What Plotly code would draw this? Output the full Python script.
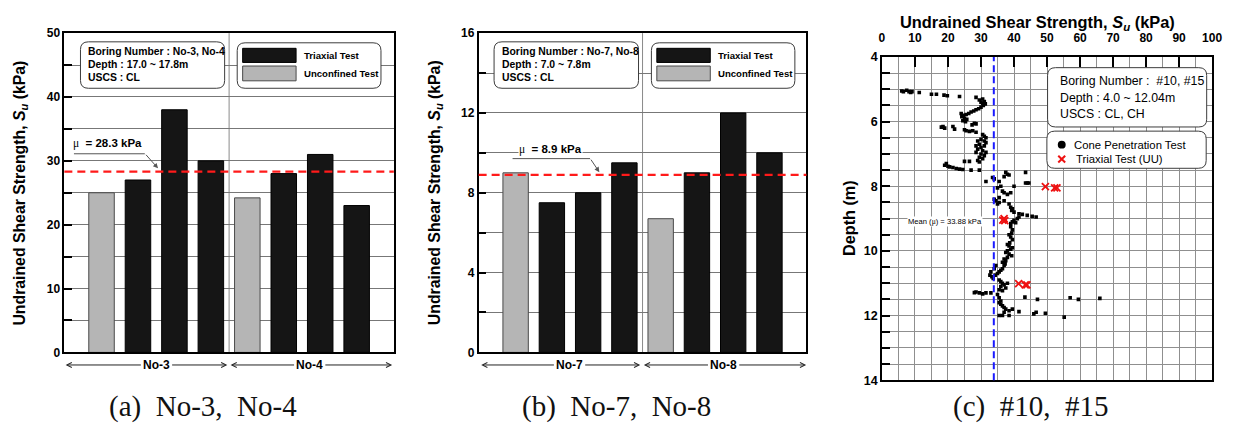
import plotly.graph_objects as go

# ---------------- data ----------------
a_boring = ["No-3", "No-3", "No-3", "No-3", "No-4", "No-4", "No-4", "No-4"]
a_tests = ["Unconfined", "Triaxial", "Triaxial", "Triaxial",
           "Unconfined", "Triaxial", "Triaxial", "Triaxial"]
a_su = [25.0, 27.0, 38.0, 30.0, 24.2, 28.0, 31.0, 23.0]
a_mean = 28.3

b_boring = ["No-7", "No-7", "No-7", "No-7", "No-8", "No-8", "No-8", "No-8"]
b_tests = ["Unconfined", "Triaxial", "Triaxial", "Triaxial",
           "Unconfined", "Triaxial", "Triaxial", "Triaxial"]
b_su = [9.0, 7.5, 8.0, 9.5, 6.7, 9.0, 12.0, 10.0]
b_mean = 8.9

# cone penetration profile (#10, #15)
cpt_su = [
    6.0, 6.5, 7.5, 8.2, 8.7, 9.1, 11.3, 15.0, 16.5, 18.8, 19.8, 23.5,
    28.5, 29.5, 30.5, 31.0, 30.0, 30.5, 31.3, 30.7, 30.0, 29.3, 28.5, 27.8,
    27.0, 26.3, 24.0, 25.5, 24.7, 24.2, 25.0, 25.7, 24.5, 25.3, 28.0, 28.5,
    27.3, 18.5, 21.5, 18.0, 19.0, 22.0, 25.0, 25.5, 27.5, 26.5, 28.5,
    30.5, 31.0, 31.5, 30.0, 29.0, 31.0, 31.5, 29.5, 28.5, 31.0, 30.0, 29.0,
    30.5, 28.5, 31.5, 30.0, 31.0, 29.5, 30.5, 29.0, 26.5, 25.0, 29.5,
    19.5, 19.0, 20.0, 20.5, 21.5, 22.5, 23.5, 24.5, 27.0, 29.5,
    43.5, 37.5, 38.0, 38.5, 37.0, 33.5, 34.0, 31.5, 35.5, 44.0, 44.5, 43.5,
    36.0, 40.0, 35.0, 36.5, 37.0, 39.0, 38.0, 35.5, 34.0, 34.5, 37.0, 35.5,
    35.0, 38.5, 39.0, 39.5, 39.3, 40.0, 41.5, 42.5, 44.0, 45.5, 46.7, 41.5,
    41.0, 40.0, 39.5, 40.5, 39.0, 39.0, 39.5, 39.3, 38.5, 39.0, 39.5, 38.7,
    38.0, 38.5, 39.5, 39.0, 38.0, 37.5, 38.5, 39.3, 38.0, 37.0, 37.5, 36.5,
    37.3, 37.0, 34.5, 36.5, 34.0, 36.0, 35.5, 33.0, 35.0, 34.3, 32.7, 33.3,
    33.7, 35.5, 36.0, 36.5, 38.0, 37.0, 36.0, 37.5, 35.5, 36.5,
    28.0, 28.5, 29.5, 30.5, 31.5, 33.0, 35.0, 57.0, 66.0, 43.3, 35.5, 47.1,
    59.5, 36.0, 35.5, 36.0, 36.5, 37.0, 37.5, 39.5, 38.5, 41.5, 37.0, 46.7,
    49.5, 46.0, 35.5, 36.5, 38.5, 55.2,
]
cpt_depth = [
    5.05, 5.07, 5.03, 5.07, 5.10, 5.07, 5.10, 5.15, 5.15, 5.18, 5.20, 5.22,
    5.25, 5.33, 5.30, 5.38, 5.40, 5.43, 5.45, 5.50, 5.55, 5.60, 5.63, 5.67,
    5.70, 5.75, 5.75, 5.78, 5.80, 5.85, 5.90, 5.93, 5.97, 6.00, 6.05, 6.07,
    6.10, 6.15, 6.15, 6.17, 6.20, 6.23, 6.25, 6.28, 6.28, 6.30, 6.33,
    6.40, 6.45, 6.50, 6.55, 6.60, 6.60, 6.65, 6.70, 6.75, 6.75, 6.80, 6.85,
    6.90, 6.95, 6.95, 7.00, 7.05, 7.10, 7.15, 7.20, 7.23, 7.23, 7.25,
    7.30, 7.35, 7.38, 7.40, 7.42, 7.45, 7.47, 7.48, 7.50, 7.50,
    7.57, 7.57, 7.63, 7.65, 7.70, 7.73, 7.77, 7.85, 7.85, 7.90, 7.90, 7.90,
    8.00, 8.00, 8.05, 8.15, 8.20, 8.20, 8.25, 8.35, 8.40, 8.45, 8.45, 8.50,
    8.55, 8.55, 8.65, 8.70, 8.75, 8.80, 8.85, 8.87, 8.90, 8.93, 8.95, 8.95,
    9.00, 9.05, 9.10, 9.13, 9.15, 9.25, 9.35, 9.45, 9.50, 9.57, 9.65, 9.75,
    9.80, 9.85, 9.90, 9.95, 10.00, 10.05, 10.10, 10.15, 10.20, 10.25, 10.30, 10.35,
    10.40, 10.45, 10.45, 10.55, 10.55, 10.60, 10.65, 10.65, 10.70, 10.75, 10.75, 10.80,
    10.85, 10.90, 10.95, 11.00, 11.00, 11.05, 11.10, 11.15, 11.20, 11.23,
    11.29, 11.27, 11.30, 11.33, 11.30, 11.30, 11.35, 11.45, 11.47, 11.43, 11.45, 11.50,
    11.50, 11.55, 11.60, 11.65, 11.70, 11.75, 11.80, 11.80, 11.85, 11.88, 11.90, 11.90,
    11.93, 11.95, 12.00, 12.00, 12.00, 12.05,
]
uu_su = [49.5, 52.3, 53.0, 36.6, 37.0, 37.2, 41.4, 43.4, 43.9]
uu_depth = [8.01, 8.05, 8.05, 9.05, 9.00, 9.06, 11.01, 11.05, 11.05]
c_mean = 33.88

su_ticks = [0, 10, 20, 30, 40, 50, 60, 70, 80, 90, 100]

# ---------------- helpers ----------------
W, H = 1234, 431
SANS = "Liberation Sans, Arial, sans-serif"
SERIF = "Liberation Serif, Times New Roman, serif"


def fx(x):
    return x / W


def fy(y):
    return 1 - y / H


fill = {"Triaxial": "#151515", "Unconfined": "#b5b5b5"}
edge = {"Triaxial": "#000000", "Unconfined": "#4a4a4a"}

fig = go.Figure()


def note(text, x, y, size, xanchor="center", bold=True, family=SANS,
         color="#000000", bg=None, angle=0):
    fig.add_annotation(
        text=text, x=fx(x), y=fy(y), xref="paper", yref="paper",
        xanchor=xanchor, yanchor="middle", showarrow=False, textangle=angle,
        font=dict(family=family, size=size, color=color,
                  weight=700 if bold else 400),
        bgcolor=bg, borderpad=0,
    )


def arrow(xh, yh, xt, yt, head=5, color="#222222"):
    fig.add_annotation(
        x=fx(xh), y=fy(yh), xref="paper", yref="paper",
        ax=xt - xh, ay=yt - yh, axref="pixel", ayref="pixel",
        text="", showarrow=True, arrowhead=head, arrowsize=1,
        arrowwidth=1, arrowcolor=color, standoff=0, startstandoff=0,
    )


def seg(x0, y0, x1, y1, color="#444444", width=1):
    fig.add_shape(type="line", xref="paper", yref="paper",
                  x0=fx(x0), y0=fy(y0), x1=fx(x1), y1=fy(y1),
                  line=dict(color=color, width=width))


def rbox(x0, y0, x1, y1, r=8):
    pts = [
        ("M", [(x0 + r, y0)]), ("L", [(x1 - r, y0)]),
        ("Q", [(x1, y0), (x1, y0 + r)]), ("L", [(x1, y1 - r)]),
        ("Q", [(x1, y1), (x1 - r, y1)]), ("L", [(x0 + r, y1)]),
        ("Q", [(x0, y1), (x0, y1 - r)]), ("L", [(x0, y0 + r)]),
        ("Q", [(x0, y0), (x0 + r, y0)]),
    ]
    path = " ".join(
        cmd + " " + " ".join(f"{fx(px):.5f},{fy(py):.5f}" for px, py in p)
        for cmd, p in pts) + " Z"
    fig.add_shape(type="path", path=path, xref="paper", yref="paper",
                  fillcolor="white", line=dict(color="#3c3c3c", width=1),
                  layer="above")


def swatch(x0, y0, x1, y1, color, line):
    fig.add_shape(type="rect", xref="paper", yref="paper",
                  x0=fx(x0), y0=fy(y0), x1=fx(x1), y1=fy(y1),
                  fillcolor=color, line=dict(color=line, width=1), layer="above")


# ---------------- bar panels ----------------
bar_panels = [
    dict(su=a_su, tests=a_tests, xa="x", ya="y"),
    dict(su=b_su, tests=b_tests, xa="x2", ya="y2"),
]
for p in bar_panels:
    fig.add_trace(go.Bar(
        x=list(range(len(p["su"]))), y=p["su"], width=0.7,
        marker=dict(color=[fill[t] for t in p["tests"]],
                    line=dict(color=[edge[t] for t in p["tests"]], width=1)),
        xaxis=p["xa"], yaxis=p["ya"], showlegend=False,
        hovertext=p["tests"],
    ))

# cone penetration + triaxial points
fig.add_trace(go.Scatter(
    x=cpt_su, y=cpt_depth, mode="markers", xaxis="x3", yaxis="y3",
    marker=dict(symbol="square", size=3.6, color="#000000"),
    name="Cone Penetration Test", showlegend=False,
))
fig.add_trace(go.Scatter(
    x=uu_su, y=uu_depth, mode="markers", xaxis="x3", yaxis="y3",
    marker=dict(symbol="x-thin", size=7, color="#ee1111",
                line=dict(color="#ee1111", width=1.8)),
    name="Triaxial Test (UU)", showlegend=False,
))

tickfont = dict(family=SANS, size=12, color="#000000", weight=700)
grid_a = "#777777"
grid_c = "#8f8f8f"

frame = dict(showline=True, mirror=True, linecolor="#000000", linewidth=1.6,
             zeroline=False)

fig.update_layout(
    width=W, height=H, autosize=False,
    margin=dict(l=0, r=0, t=0, b=0),
    paper_bgcolor="white", plot_bgcolor="white",
    xaxis=dict(domain=[fx(62), fx(395)], range=[-1.02, 8.02],
               showticklabels=False, showgrid=False, ticks="", anchor="y", **frame),
    yaxis=dict(domain=[fy(357), fy(27)], range=[0, 50], dtick=10,
               ticks="inside", ticklen=8, tickwidth=1.5, tickcolor="#000",
               showgrid=True, gridcolor=grid_a, gridwidth=1,
               minor=dict(dtick=5, ticks="inside", ticklen=8, tickcolor="#000",
                          showgrid=True, gridcolor=grid_a, gridwidth=1),
               tickfont=tickfont, anchor="x", **frame),
    xaxis2=dict(domain=[fx(480.7), fx(812)], range=[-1.02, 8.02],
                showticklabels=False, showgrid=False, ticks="", anchor="y2", **frame),
    yaxis2=dict(domain=[fy(357), fy(27)], range=[0, 16], dtick=4,
                ticks="inside", ticklen=8, tickwidth=1.5, tickcolor="#000",
                showgrid=True, gridcolor=grid_a, gridwidth=1,
                minor=dict(dtick=2, ticks="inside", ticklen=8, tickcolor="#000",
                           showgrid=True, gridcolor=grid_a, gridwidth=1),
                tickfont=tickfont, anchor="x2", **frame),
    xaxis3=dict(domain=[fx(888.3), fx(1222)], range=[0, 100],
                tickmode="array", tickvals=su_ticks,
                ticktext=[str(v) for v in su_ticks],
                side="top", ticks="inside", ticklen=10, tickwidth=1.5,
                tickcolor="#000", ticklabelstandoff=8, ticklabeloverflow="allow",
                showgrid=True, gridcolor=grid_c, gridwidth=1,
                minor=dict(dtick=5, showgrid=True, gridcolor=grid_c, gridwidth=1),
                tickfont=dict(tickfont, size=12), anchor="y3", **frame),
    yaxis3=dict(domain=[fy(385.7), fy(51.7)], range=[14, 4], dtick=2,
                ticks="inside", ticklen=8, tickwidth=1.5, tickcolor="#000",
                showgrid=True, gridcolor=grid_c, gridwidth=1,
                minor=dict(dtick=0.5, ticks="inside", ticklen=8, tickcolor="#000",
                           showgrid=True, gridcolor=grid_c, gridwidth=1),
                tickfont=dict(tickfont, size=12.5), anchor="x3", **frame),
)

# borehole separators and mean lines
for xa, ya, mean in (("x", "y", a_mean), ("x2", "y2", b_mean)):
    fig.add_shape(type="line", xref=xa, yref=f"{ya} domain", x0=3.5, x1=3.5,
                  y0=0, y1=1, line=dict(color="#8a8a8a", width=1), layer="below")
    fig.add_shape(type="line", xref=f"{xa} domain", yref=ya, x0=0, x1=1,
                  y0=mean, y1=mean,
                  line=dict(color="#ff1a1a", width=2.2, dash="8px,5px"))
fig.add_shape(type="line", xref="x3", yref="y3 domain", x0=c_mean, x1=c_mean,
              y0=0, y1=1, line=dict(color="#1a1aff", width=2, dash="7px,4px"))

# axis titles
su_title = "Undrained Shear Strength, <i>S<sub>u</sub></i> (kPa)"
note(su_title, 18, 192, 15.8, angle=-90)
note(su_title, 437, 192, 15.8, angle=-90)
note(su_title, 1046, 17, 16.4)
note("Depth (m)", 855, 218, 16.2, angle=-90)

# info boxes and legends of the bar panels
info = [
    (78.3, 224, ["Boring Number : No-3, No-4", "Depth : 17.0 ~ 17.8m", "USCS : CL"]),
    (496.3, 642.3, ["Boring Number : No-7, No-8", "Depth : 7.0 ~ 7.8m", "USCS : CL"]),
]
legend_x = [(236.7, 382), (655.3, 800.3)]
for (bx0, bx1, lines), (lx0, lx1) in zip(info, legend_x):
    rbox(bx0, 36, bx1, 84)
    for i, t in enumerate(lines):
        note(t, bx0 + 6.5, 46 + 13.3 * i, 10.4, xanchor="left")
    rbox(lx0, 37, lx1, 84)
    swatch(lx0 + 5.5, 42.7, lx0 + 59.5, 57.3, fill["Triaxial"], edge["Triaxial"])
    swatch(lx0 + 5.5, 61, lx0 + 59.5, 76.3, fill["Unconfined"], edge["Unconfined"])
    note("Triaxial Test", lx0 + 66, 50, 9.6, xanchor="left")
    note("Unconfined Test", lx0 + 66, 68.5, 9.6, xanchor="left")

# mean value callouts
mu = "<span style='font-family:Liberation Serif;font-weight:normal'>\u03bc</span>"
note(f"{mu}  = {a_mean} kPa", 106, 141, 11.5, bg="white")
seg(71.7, 151.7, 143.3, 151.7, color="#555555")
arrow(156.7, 166.7, 143.3, 151.7, head=2, color="#555555")
note(f"{mu}  = {b_mean} kPa", 553.3, 147.7, 11.5, bg="white")
seg(515, 156.7, 593.3, 156.7, color="#555555")
arrow(602.7, 170.7, 593.3, 156.7, head=2, color="#555555")

# borehole spans under the bar panels
spans = [
    (a_boring[0], 155, 63.3, 226.7), (a_boring[-1], 310, 230, 393.3),
    (b_boring[0], 572.5, 483.3, 644), (b_boring[-1], 728.3, 647.7, 811.7),
]
for name, cx, x_left, x_right in spans:
    note(name, cx, 370, 12)
    arrow(x_left, 370, cx - 15, 370)
    arrow(x_right, 370, cx + 15, 370)

# panel (c) boxes
rbox(1055.7, 62.7, 1216.5, 124)
for i, t in enumerate(["Boring Number :  #10, #15", "Depth : 4.0 ~ 12.04m",
                       "USCS : CL, CH"]):
    note(t, 1067, 76.7 + 17 * i, 12.3, xanchor="left", bold=False)
rbox(1055, 128.3, 1216, 166.7)
fig.add_shape(type="circle", xref="paper", yref="paper",
              x0=fx(1066), x1=fx(1074), y0=fy(138.3), y1=fy(146.3),
              fillcolor="#000", line=dict(color="#000", width=0), layer="above")
seg(1066.5, 153.8, 1073.5, 160.8, color="#ee1111", width=2)
seg(1066.5, 160.8, 1073.5, 153.8, color="#ee1111", width=2)
note("Cone Penetration Test", 1081.7, 142.3, 11.3, xanchor="left", bold=False)
note("Triaxial Test (UU)", 1083, 157.3, 11.3, xanchor="left", bold=False)
note(f"Mean ({mu}) = {c_mean} kPa", 952, 221.7, 7.6, bold=False, bg="white")

# captions
nb = "\u00a0"
cap_font = dict(size=29, bold=False, family=SERIF, color="#111")
note(f"(a){nb} No-3,{nb} No-4", 201.7, 413, **cap_font)
note(f"(b){nb} No-7,{nb} No-8", 620, 413, **cap_font)
note(f"(c){nb} #10,{nb} #15", 1038, 413, **cap_font)

# keep the page exactly the size of the figure (no scrollbars)
page_css = ("document.documentElement.style.overflow='hidden';"
            "document.body.style.overflow='hidden';"
            "document.body.style.margin='0';")
fig.write_html("out.html", post_script=page_css)
